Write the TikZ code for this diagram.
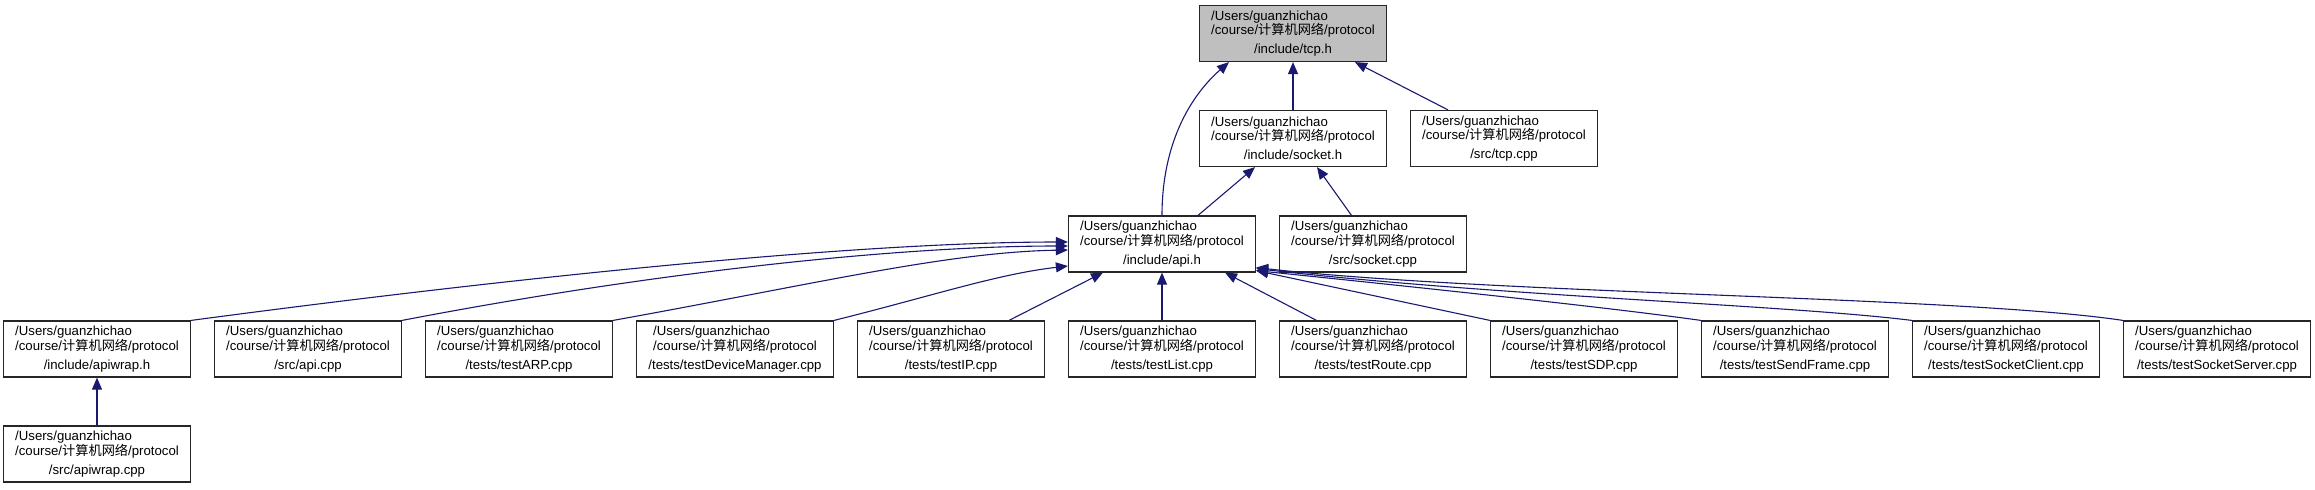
\documentclass[tikz,border=0pt]{standalone}
\usepackage{fontspec}
\setmainfont{Liberation Sans}
\newfontfamily\cjk{Noto Sans CJK SC}
\usetikzlibrary{arrows.meta, positioning}
\definecolor{midnightblue}{HTML}{191970}
% two fixed lines on the left, then the file part centred
\newcommand{\incpath}[1]{\begin{tabular}[b]{@{}l@{}}/Users/guanzhichao\\[-0.6pt]/course/{\cjk 计算机网络}/protocol\end{tabular}\\[2.5pt]#1}
\tikzset{
  file/.style={draw=black!85, line width=0.6pt, align=center,
    minimum width=93.5pt, minimum height=28pt, inner xsep=5.5pt,
    inner ysep=0pt, font=\fontsize{6.6}{7}\selectfont}, % one source file
  dep/.style={every edge/.style={draw=midnightblue, line width=0.55pt,
    -{Triangle[length=6pt, width=5pt]}}}, % "is included by"
}

\begin{document}
\begin{tikzpicture}[x=0.5pt, y=-0.5pt, node distance=23.9pt and 11.4pt]
  \useasboundingbox (0,0) rectangle (2315,489);

  \node[file, fill=black!25] (tcp) at (1293,33.5) {\incpath{/include/tcp.h}};
  \node[file, below=of tcp] (socket) {\incpath{/include/socket.h}};
  \node[file, right=of socket] (tcpcpp) {\incpath{/src/tcp.cpp}};

  \node[file] (api) at (1162,244) {\incpath{/include/api.h}};
  \node[file, right=of api] (socketcpp) {\incpath{/src/socket.cpp}};

  % bottom row, built out from the one under api.h
  \node[file, below=of api] (testlist) {\incpath{/tests/testList.cpp}};
  \node[file, left=of testlist] (testip) {\incpath{/tests/testIP.cpp}};
  \node[file, left=of testip, minimum width=98.5pt] (testdm) {\incpath{/tests/testDeviceManager.cpp}};
  \node[file, left=of testdm] (testarp) {\incpath{/tests/testARP.cpp}};
  \node[file, left=of testarp] (apicpp) {\incpath{/src/api.cpp}};
  \node[file, left=of apicpp] (apiwrap) {\incpath{/include/apiwrap.h}};
  \node[file, below=of apiwrap] (apiwrapcpp) {\incpath{/src/apiwrap.cpp}};
  \node[file, right=of testlist] (testroute) {\incpath{/tests/testRoute.cpp}};
  \node[file, right=of testroute] (testsdp) {\incpath{/tests/testSDP.cpp}};
  \node[file, right=of testsdp] (testsend) {\incpath{/tests/testSendFrame.cpp}};
  \node[file, right=of testsend] (testclient) {\incpath{/tests/testSocketClient.cpp}};
  \node[file, right=of testclient] (testserver) {\incpath{/tests/testSocketServer.cpp}};

  \path[dep]
    (socket) edge (tcp)
    ([xshift=-28pt]tcpcpp.north) edge ([xshift=31pt]tcp.south)
    (api.north) edge[controls={+(0,-70) and +(-40,35)}] ([xshift=-32pt]tcp.south)
    ([xshift=18pt]api.north) edge ([xshift=-19pt]socket.south)
    ([xshift=-10.75pt]socketcpp.north) edge ([xshift=12pt]socket.south)

    (apiwrapcpp) edge (apiwrap)
    (apiwrap.north east) edge[controls={+(300,-40) and +(-220,0)}] ([yshift=1pt]api.west)
    (apicpp.north east) edge[controls={+(250,-48) and +(-170,0)}] ([yshift=-1pt]api.west)
    (testarp.north east) edge[controls={+(200,-36) and +(-120,2)}] ([yshift=-3pt]api.west)
    (testdm.north east) edge[controls={+(100,-25) and +(-70,8)}] ([yshift=-11pt]api.west)
    ([xshift=29pt]testip.north) edge ([xshift=-29.5pt]api.south)
    (testlist) edge (api)
    ([xshift=-28.25pt]testroute.north) edge ([xshift=31.5pt]api.south)
    (testsdp.north west) edge ([yshift=1pt]api.south east)
    (testsend.north west) edge[controls={+(-100,-14) and +(145,15)}] ([yshift=1pt]api.south east)
    (testclient.north west) edge[controls={+(-130,-16) and +(245,28)}] ([yshift=2pt]api.south east)
    (testserver.north west) edge[controls={+(-160,-24) and +(245,27)}] ([yshift=2.5pt]api.south east)
    ;
\end{tikzpicture}
\end{document}
